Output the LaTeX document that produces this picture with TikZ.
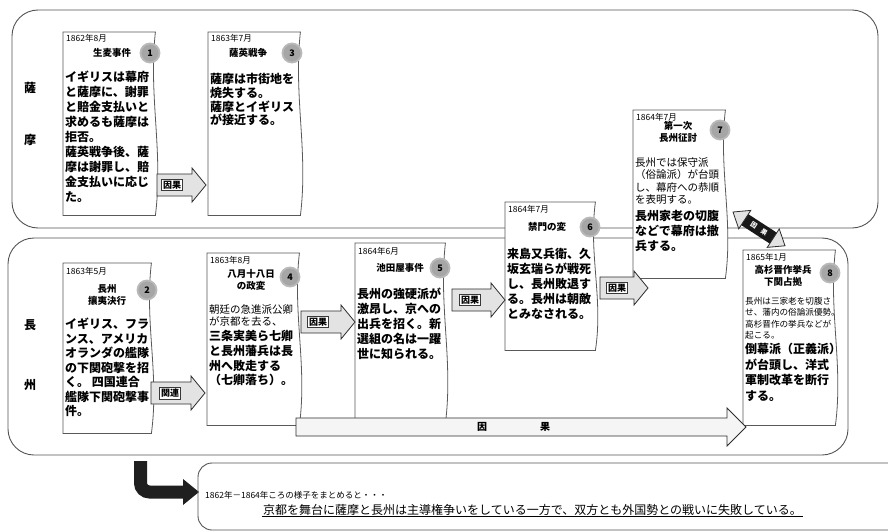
\documentclass[tikz,border=0pt]{standalone}
\usepackage{fontspec}
\setmainfont{Noto Sans CJK JP}
\usetikzlibrary{calc}
\newcommand\wavybox[1]{%
  \draw[evbox] (#1.north west) -- (#1.north east)
    .. controls ($(#1.north east)!0.35!(#1.south east)+(-7,0)$) and ($(#1.north east)!0.65!(#1.south east)+(8,0)$) .. (#1.south east)
    -- (#1.south west) -- cycle;}
\newcommand\blockarrow[6]{% name x1 x2 yc bodyhalf headhalf
  \draw[barrow] (#2,{#4-#5}) -- ({#3-14},{#4-#5}) -- ({#3-14},{#4-#6}) -- (#3,#4)
    -- ({#3-14},{#4+#6}) -- ({#3-14},{#4+#5}) -- (#2,{#4+#5}) -- cycle;
  \coordinate (#1) at ({(#2+#3)/2-8},#4);}
\begin{document}
\begin{tikzpicture}[x=1pt,y=-1pt,
  region/.style={draw=gray!65!black, line width=0.9pt, rounded corners=26pt},
  evbox/.style={draw=gray!70!black, line width=0.8pt, fill=white},
  boxbase/.style={inner sep=0pt, draw=none, anchor=north west},
  datet/.style={font=\fontsize{8.5}{9}\selectfont, anchor=north west, inner sep=0pt},
  ttl/.style={font=\fontsize{9.5}{11.5}\selectfont\bfseries, align=center, inner sep=0pt},
  bodyt/.style={font=\fontsize{12}{15}\selectfont\bfseries, align=left, anchor=north west, inner sep=0pt},
  smallt/.style={font=\fontsize{10.5}{12.5}\selectfont, align=left, anchor=north west, inner sep=0pt},
  badge/.style={circle, draw=gray!55, line width=1.8pt, fill=gray!70, minimum size=19pt, inner sep=0pt, font=\fontsize{9}{9}\selectfont\bfseries},
  barrow/.style={draw=gray!35!black, fill=gray!22, line width=0.8pt},
  blabel/.style={draw=gray!45!black, fill=white, inner sep=1.5pt, font=\fontsize{9}{10}\selectfont\bfseries},
  side/.style={font=\fontsize{12}{12}\selectfont\bfseries, inner sep=0pt},
  dlab/.style={text=white, font=\fontsize{6.5}{6.5}\selectfont\bfseries, rotate=-33, inner sep=0pt}
]
\useasboundingbox (0,0) rectangle (888,532);
\fill[white] (0,0) rectangle (888,532);

% regions
\draw[region] (12,10) rectangle (878,228);
\draw[region] (8,238) rectangle (848,455);
\node[side] (s1) at (30,88) {薩};
\node[side] (s2) at (30,140) {摩};
\node[side] (c1) at (30,325) {長};
\node[side] (c2) at (30,385) {州};

% box 1
\node[boxbase, minimum width=92pt, minimum height=183pt] (b1) at (63,32) {};
\wavybox{b1}
\node[datet] (b1d) at (66,34) {1862年8月};
\node[ttl] (b1t) at (112,53) {生麦事件};
\node[badge] (n1) at (150,53) {1};
\node[bodyt] (b1x) at (65,71) {イギリスは幕府\\と薩摩に、謝罪\\と賠金支払いと\\求めるも薩摩は\\拒否。\\薩英戦争後、薩\\摩は謝罪し、賠\\金支払いに応じ\\た。};

% box 3
\node[boxbase, minimum width=92pt, minimum height=183pt] (b3) at (208,32) {};
\wavybox{b3}
\node[datet] (b3d) at (211,34) {1863年7月};
\node[ttl] (b3t) at (248,53) {薩英戦争};
\node[badge] (n3) at (292,53) {3};
\node[bodyt, font=\fontsize{12}{13.8}\selectfont\bfseries] (b3x) at (210,73) {薩摩は市街地を\\焼失する。\\薩摩とイギリス\\が接近する。};

% box 2
\node[boxbase, minimum width=88pt, minimum height=170pt] (b2) at (63,263) {};
\wavybox{b2}
\node[datet] (b2d) at (66,267) {1863年5月};
\node[ttl] (b2t) at (107,295) {長州\\攘夷決行};
\node[badge] (n2) at (147,290) {2};
\node[bodyt, font=\fontsize{12}{14.5}\selectfont\bfseries] (b2x) at (65,318) {イギリス、フラ\\ンス、アメリカ\\オランダの艦隊\\の下関砲撃を招\\く。 四国連合\\艦隊下関砲撃事\\件。};

% box 4
\node[boxbase, minimum width=92pt, minimum height=172pt] (b4) at (207,253) {};
\wavybox{b4}
\node[datet] (b4d) at (210,256) {1863年8月};
\node[ttl] (b4t) at (251,280) {八月十八日\\の政変};
\node[badge] (n4) at (290,277) {4};
\node[smallt] (b4s) at (209,304) {朝廷の急進派公卿\\が京都を去る、};
\node[bodyt, font=\fontsize{12}{14.8}\selectfont\bfseries] (b4x) at (209,330) {三条実美ら七卿\\と長州藩兵は長\\州へ敗走する\\（七卿落ち）。};

% box 5
\node[boxbase, minimum width=90pt, minimum height=180pt] (b5) at (355,243) {};
\wavybox{b5}
\node[datet] (b5d) at (358,247) {1864年6月};
\node[ttl] (b5t) at (400,268) {池田屋事件};
\node[badge] (n5) at (440,268) {5};
\node[bodyt] (b5x) at (357,288) {長州の強硬派が\\激昂し、京への\\出兵を招く。新\\選組の名は一躍\\世に知られる。};

% box 6
\node[boxbase, minimum width=90pt, minimum height=148pt] (b6) at (505,202) {};
\wavybox{b6}
\node[datet] (b6d) at (508,205) {1864年7月};
\node[ttl] (b6t) at (547,227) {禁門の変};
\node[badge] (n6) at (590,227) {6};
\node[bodyt] (b6x) at (507,248) {来島又兵衛、久\\坂玄瑞らが戦死\\し、長州敗退す\\る。長州は朝敵\\とみなされる。};

% box 7
\node[boxbase, minimum width=92pt, minimum height=168pt] (b7) at (633,110) {};
\wavybox{b7}
\node[datet] (b7d) at (636,113) {1864年7月};
\node[ttl] (b7t) at (678,132) {第一次\\長州征討};
\node[badge] (n7) at (720,130) {7};
\node[smallt] (b7s) at (635,157) {長州では保守派\\（俗論派）が台頭\\し、幕府への恭順\\を表明する。};
\node[bodyt] (b7x) at (635,210) {長州家老の切腹\\などで幕府は撤\\兵する。};

% box 8
\node[boxbase, minimum width=92pt, minimum height=175pt] (b9) at (743,250) {};
\wavybox{b9}
\node[datet] (b9d) at (746,253) {1865年1月};
\node[ttl] (b9t) at (783,276) {高杉晋作挙兵\\下関占拠};
\node[badge] (n9) at (830,273) {8};
\node[smallt, font=\fontsize{8.6}{11.5}\selectfont] (b9s) at (745,297) {長州は三家老を切腹さ\\せ、藩内の俗論派優勢。\\高杉晋作の挙兵などが\\起こる。};
\node[bodyt, font=\fontsize{12}{15.5}\selectfont\bfseries] (b9x) at (745,343) {倒幕派（正義派）\\が台頭し、洋式\\軍制改革を断行\\する。};

% block arrows
\blockarrow{a1}{157}{206}{185}{11}{17}
\node[blabel] (l1) at (172,185) {因果};
\blockarrow{a2}{151}{205}{393}{11}{17}
\node[blabel] (l2) at (170,393) {関連};
\blockarrow{a3}{301}{355}{322}{11}{17}
\node[blabel] (l3) at (318,322) {因果};
\blockarrow{a4}{452}{505}{300}{11}{17}
\node[blabel] (l4) at (470,300) {因果};
\blockarrow{a5}{600}{648}{288}{11}{17}
\node[blabel] (l5) at (617,288) {因果};

% long arrow
\draw[barrow, fill=gray!8] (296,418) -- (727,418) -- (727,408) -- (746,427) -- (727,446) -- (727,436) -- (296,436) -- cycle;
\node[font=\fontsize{10}{10}\selectfont\bfseries] (lg1) at (482,427) {因};
\node[font=\fontsize{10}{10}\selectfont\bfseries] (lg2) at (545,427) {果};

% double arrow between 7 and 8
\begin{scope}[shift={(733,212)}, rotate=-33]
  \fill[black!90] (12,-6.5) rectangle (50,6.5);
  \draw[barrow] (0,0) -- (14,-11) -- (14,11) -- cycle;
  \draw[barrow] (62,0) -- (48,-11) -- (48,11) -- cycle;
  \node[dlab] (dl1) at (25,0) {因};
  \node[dlab] (dl2) at (37,0) {果};
\end{scope}

% bent arrow and summary box
\coordinate (bentstart) at (140.5,461);
\coordinate (bentend) at (184,492);
\draw[line width=13pt, black!88, rounded corners=9pt] (bentstart) |- (bentend);
\fill[black!88] (183,479) -- (199,492) -- (183,505) -- cycle;
\draw[region, rounded corners=14pt] (900,463) -- (198,463) -- (198,530) -- (900,530);
\node[anchor=west, inner sep=0pt, font=\fontsize{8.5}{9}\selectfont] (sm1) at (205,495) {1862年－1864年ころの様子をまとめると・・・};
\node[anchor=west, inner sep=1pt, font=\fontsize{12}{12}\selectfont] (sm2) at (262,510) {京都を舞台に薩摩と長州は主導権争いをしている一方で、双方とも外国勢との戦いに失敗している。};
\draw[line width=0.8pt] (sm2.south west) -- (sm2.south east);
\end{tikzpicture}
\end{document}
